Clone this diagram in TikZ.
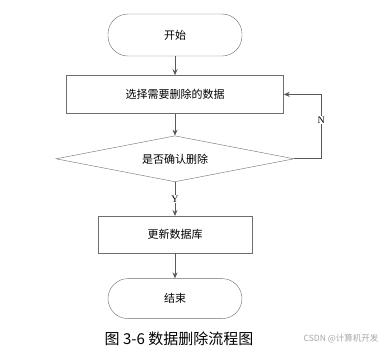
\documentclass[tikz,border=0pt]{standalone}
\usepackage{fontspec}
\newfontfamily\cjk{Noto Sans CJK SC}
\newfontfamily\latinserif{Liberation Serif}
\usepackage{xcolor}
\definecolor{delline}{HTML}{595959}
\definecolor{deledge}{HTML}{6E6E6E}
\definecolor{delmark}{HTML}{A6A6A6}
\usepackage{tikz}
\usetikzlibrary{arrows.meta,positioning,shapes.geometric}
\tikzset{
  delterm/.style={draw=deledge,rounded corners=20pt,fill=white,inner sep=2pt,align=center,font=\cjk\fontsize{11}{13}\selectfont,minimum width=134pt,minimum height=42pt},
  delbox/.style={draw=deledge,fill=white,inner sep=2pt,align=center,font=\cjk\fontsize{11}{13}\selectfont,minimum height=38pt},
  deldec/.style={draw=deledge,diamond,aspect=5.2,inner sep=0pt,fill=white,font=\cjk\fontsize{11}{13}\selectfont,minimum width=238pt,minimum height=46pt},
  delflow/.style={-{Stealth[length=6pt,width=5pt]},draw=delline,line width=0.9pt},
  dellabel/.style={font=\latinserif\fontsize{10}{12}\selectfont,fill=white,inner sep=1pt},
}
\begin{document}
\begin{tikzpicture}[x=1pt,y=1pt,node distance=19pt]
\useasboundingbox (0,0) rectangle (387,-354);
\node[delterm] (st) at (175,-35) {开始};
\node[delbox,below=19pt of st,minimum width=217pt] (sel) {选择需要删除的数据};
\node[deldec,below=22pt of sel] (chk) {是否确认删除};
\node[delbox,below=34pt of chk,minimum width=154pt,minimum height=37pt] (upd) {更新数据库};
\node[delterm,below=25pt of upd,minimum height=40pt] (en) {结束};
\node[font=\cjk\fontsize{15}{17}\selectfont,below=9pt of en,xshift=4pt] (cap) {图 3-6 数据删除流程图};
\node[font=\cjk\fontsize{8.5}{10}\selectfont,text=delmark,anchor=center] (wm) at (341,-339) {CSDN @计算机开发};
\draw[delflow](st)--(sel);
\draw[delflow](sel)--(chk);
\draw[delflow](chk)--node[dellabel]{Y}(upd);
\draw[delflow](upd)--(en);
\draw[delflow](chk.east)--++(27,0)|-node[dellabel,pos=0.3]{N}(sel.east);
\end{tikzpicture}
\end{document}
